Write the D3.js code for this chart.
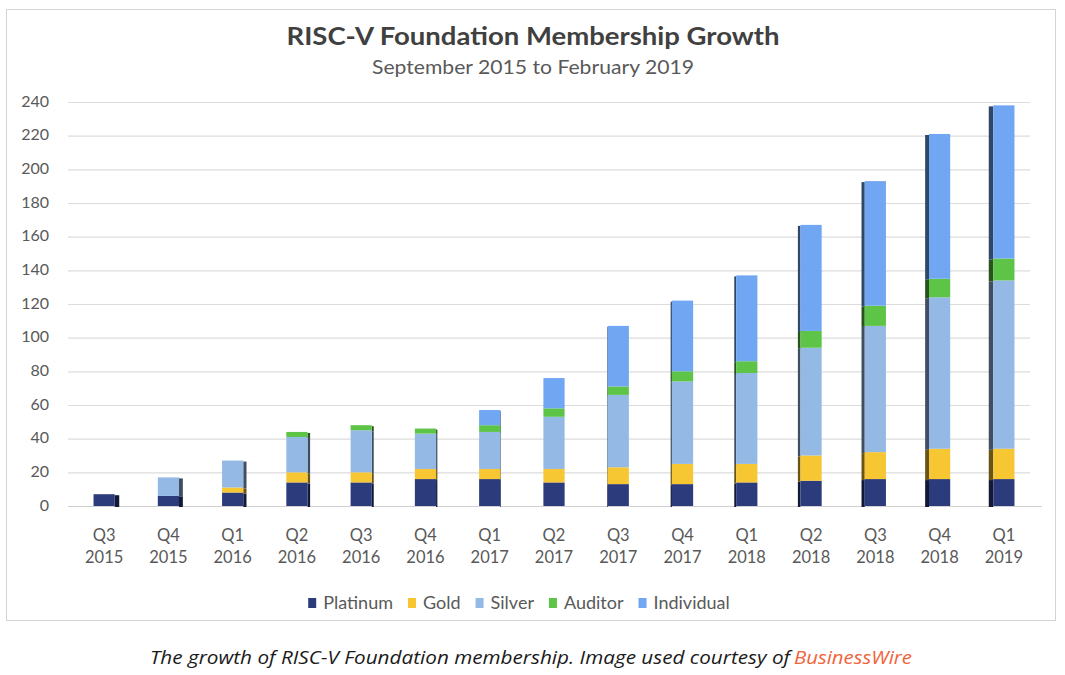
<!DOCTYPE html>
<html>
<head>
<meta charset="utf-8">
<script src="https://cdn.jsdelivr.net/npm/d3@7"></script>
<style>
  html, body { margin: 0; padding: 0; background: #ffffff; }
  svg { display: block; }
</style>
</head>
<body>
<svg id="chart" width="1065" height="675"></svg>
<script>
// ---------- data ----------
const categories = ["Q3 2015","Q4 2015","Q1 2016","Q2 2016","Q3 2016","Q4 2016","Q1 2017","Q2 2017",
                    "Q3 2017","Q4 2017","Q1 2018","Q2 2018","Q3 2018","Q4 2018","Q1 2019"];
const seriesNames = ["Platinum","Gold","Silver","Auditor","Individual"];
const platinum   = [7, 6, 8, 14, 14, 16, 16, 14, 13, 13, 14, 15, 16, 16, 16];
const gold       = [0, 0, 3, 6, 6, 6, 6, 8, 10, 12, 11, 15, 16, 18, 18];
const silver     = [0, 11, 16, 21, 25, 21, 22, 31, 43, 49, 54, 64, 75, 90, 100];
const auditor    = [0, 0, 0, 3, 3, 3, 4, 5, 5, 6, 7, 10, 12, 11, 13];
const individual = [0, 0, 0, 0, 0, 0, 9, 18, 36, 42, 51, 63, 74, 86, 91];
const yTicks = [0, 20, 40, 60, 80, 100, 120, 140, 160, 180, 200, 220, 240];
const colors = ["#2c3b7c", "#f6c633", "#95b9e5", "#5dc447", "#70a6f2"];

const titleText = "RISC-V Foundation Membership Growth";
const subtitleText = "September 2015 to February 2019";
const captionText = "The growth of RISC-V Foundation membership. Image used courtesy of";
const captionLink = "BusinessWire";

// ---------- build table ----------
const seriesValues = [platinum, gold, silver, auditor, individual];
const table = categories.map((c, i) => {
  const row = { cat: c, idx: i };
  seriesNames.forEach((s, k) => row[s] = seriesValues[k][i]);
  return row;
});
const stacked = d3.stack().keys(seriesNames)(table);

// ---------- setup ----------
const svg = d3.select("#chart");
const FONT = "Lato, 'Open Sans', sans-serif";
const GREY = "#595959";

// chart border
svg.append("rect").attr("x", 6.5).attr("y", 9.5).attr("width", 1049).attr("height", 611)
  .attr("fill", "#ffffff").attr("stroke", "#d4d4d4").attr("stroke-width", 1);

const x = d3.scaleBand().domain(categories).range([72, 1036]).paddingInner(0.67).paddingOuter(0.335);
const y = d3.scaleLinear().domain([0, 240]).range([506, 102]);

// gridlines
const grid = svg.append("g");
grid.selectAll("line").data(yTicks).join("line")
  .attr("x1", 68).attr("x2", d => d === 0 ? 1042 : 1030)
  .attr("y1", d => y(d) + 0.5).attr("y2", d => y(d) + 0.5)
  .attr("stroke", d => d === 0 ? "#d0d0d0" : "#dcdcdc").attr("stroke-width", 1.2);

// y axis labels
const yAxis = d3.axisLeft(y).tickValues(yTicks).tickSize(0).tickPadding(0);
const yG = svg.append("g").attr("transform", "translate(49,-1)").call(yAxis);
yG.select(".domain").remove();
yG.selectAll("text").attr("font-family", FONT).attr("font-size", 16).attr("fill", GREY);

// x axis labels (two lines)
const xAxis = d3.axisBottom(x).tickSize(0).tickFormat("");
const xG = svg.append("g").attr("transform", "translate(0,506)").call(xAxis);
xG.select(".domain").remove();
xG.selectAll(".tick").each(function(d) {
  const parts = d.split(" ");
  const t = d3.select(this).append("text")
    .attr("text-anchor", "middle").attr("font-family", FONT).attr("font-size", 16.5).attr("fill", GREY);
  t.append("tspan").attr("x", 0).attr("y", 35).text(parts[0]);
  t.append("tspan").attr("x", 0).attr("y", 57).text(parts[1]);
});

// bars with a thin side face for a 3D look
const bw = x.bandwidth();
const mid = (categories.length - 1) / 2;
const sideW = i => Math.abs(i - mid) / mid * 4.5;
const layers = svg.append("g").selectAll("g").data(stacked).join("g");
layers.each(function(layer, k) {
  const g = d3.select(this);
  const segs = layer.filter(d => d[1] - d[0] > 0);
  const col = colors[k];
  // side face
  g.selectAll("rect.side").data(segs).join("rect").attr("class", "side")
    .attr("x", d => d.data.idx < mid ? x(d.data.cat) + bw : x(d.data.cat) - sideW(d.data.idx))
    .attr("width", d => sideW(d.data.idx))
    .attr("y", d => y(d[1]) + 1)
    .attr("height", d => Math.max(0, y(d[0]) - y(d[1])))
    .attr("fill", d3.color(col).darker(2.4));
  // front face
  g.selectAll("rect.front").data(segs).join("rect").attr("class", "front")
    .attr("x", d => x(d.data.cat))
    .attr("width", bw)
    .attr("y", d => y(d[1]))
    .attr("height", d => y(d[0]) - y(d[1]))
    .attr("fill", col);
});

// title & subtitle
svg.append("text").attr("x", 533).attr("y", 45).attr("text-anchor", "middle")
  .attr("font-family", FONT).attr("font-weight", "bold").attr("font-size", 25)
  .attr("fill", "#404040").attr("textLength", 493).attr("lengthAdjust", "spacingAndGlyphs")
  .text(titleText);
svg.append("text").attr("x", 533).attr("y", 74).attr("text-anchor", "middle")
  .attr("font-family", FONT).attr("font-size", 19)
  .attr("fill", GREY).attr("textLength", 322).attr("lengthAdjust", "spacingAndGlyphs")
  .text(subtitleText);

// legend
const legend = svg.append("g");
const items = legend.selectAll("g").data(seriesNames).join("g");
items.append("rect").attr("width", 8).attr("height", 10).attr("y", -11)
  .attr("fill", (d, i) => colors[i]);
items.append("text").attr("x", 15).attr("y", 0)
  .attr("font-family", FONT).attr("font-size", 18).attr("fill", GREY).text(d => d);
let cx = 0;
const offsets = [];
items.each(function() {
  offsets.push(cx);
  cx += 15 + this.querySelector("text").getComputedTextLength() + 15;
});
const total = cx - 15;
const lx0 = 519 - total / 2;
items.attr("transform", (d, i) => `translate(${lx0 + offsets[i]},609)`);

// caption
svg.append("text").attr("x", 150).attr("y", 664)
  .attr("font-family", "'Open Sans', sans-serif").attr("font-style", "italic").attr("font-size", 19)
  .attr("fill", "#1a1a1a").attr("textLength", 640).attr("lengthAdjust", "spacingAndGlyphs")
  .text(captionText);
svg.append("text").attr("x", 794).attr("y", 664)
  .attr("font-family", "'Open Sans', sans-serif").attr("font-style", "italic").attr("font-size", 19)
  .attr("fill", "#f0643c").attr("textLength", 118).attr("lengthAdjust", "spacingAndGlyphs")
  .text(captionLink);
</script>
</body>
</html>
